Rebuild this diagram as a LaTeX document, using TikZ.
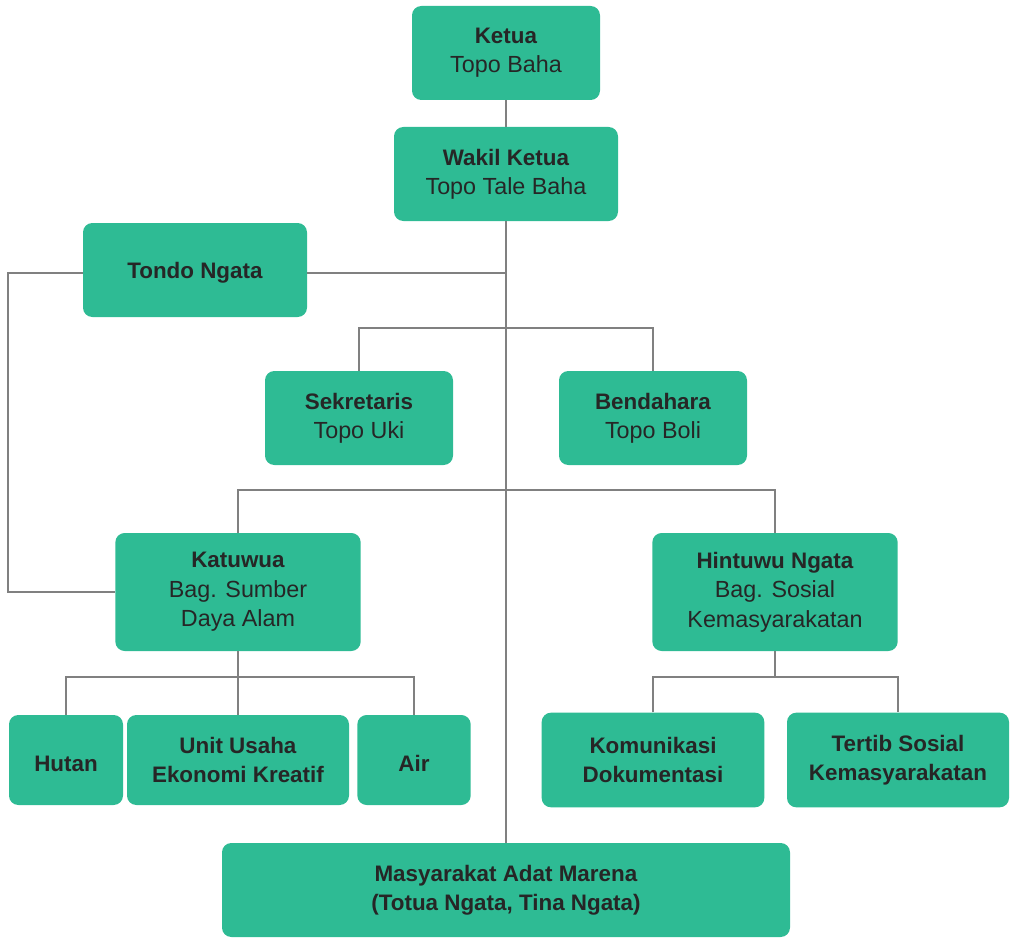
\documentclass[tikz,border=0pt]{standalone}
\usepackage{fontspec}
\setmainfont{Liberation Sans}[BoldFeatures={Scale=0.96}]
\usepackage{xcolor}
\usepackage{tikz}
\usetikzlibrary{positioning, calc}
\definecolor{boxgreen}{RGB}{46, 187, 148}
\definecolor{linegray}{RGB}{128, 128, 128}

\tikzset{
    unit/.style={fill=boxgreen, rounded corners=7pt, align=center, inner sep=0pt,
        font=\fontsize{17.5}{22}\selectfont, text=black!85,
        execute at begin node={\rule{0pt}{16.8pt}}},
    wire/.style={draw=linegray, line width=1.5pt}
}

\begin{document}
\begin{tikzpicture}[x=0.75pt, y=-0.75pt]
    \useasboundingbox (0,0) rectangle (1010,938);

    % Pengurus inti
    \node[unit, minimum width=141pt, minimum height=70.5pt] (ketua) at (506,53) {\textbf{Ketua}\\Topo Baha};
    \node[unit, minimum width=168pt, minimum height=70.5pt] (wakil) at (506,174) {\textbf{Wakil Ketua}\\Topo Tale Baha};
    \node[unit, minimum width=168pt, minimum height=70.5pt] (tondo) at (195,270) {\textbf{Tondo Ngata}};
    \node[unit, minimum width=141pt, minimum height=70.5pt] (sekre) at (359,418) {\textbf{Sekretaris}\\Topo Uki};
    \node[unit, minimum width=141pt, minimum height=70.5pt] (benda) at (653,418) {\textbf{Bendahara}\\Topo Boli};

    % Bagian
    \node[unit, minimum width=184pt, minimum height=88.5pt] (katuwua) at (238,592) {\textbf{Katuwua}\\Bag. Sumber\\Daya Alam};
    \node[unit, minimum width=184pt, minimum height=88.5pt] (hintuwu) at (775,592) {\textbf{Hintuwu Ngata}\\Bag. Sosial\\Kemasyarakatan};

    % Unit di bawah bagian
    \node[unit, minimum width=85.5pt, minimum height=67.5pt] (hutan) at (66,760) {\textbf{Hutan}};
    \node[unit, minimum width=166.5pt, minimum height=67.5pt] (usaha) at (238,760) {\textbf{Unit Usaha}\\\textbf{Ekonomi Kreatif}};
    \node[unit, minimum width=85pt, minimum height=67.5pt] (air) at (414,760) {\textbf{Air}};
    \node[unit, minimum width=167pt, minimum height=71pt] (komun) at (653,760) {\textbf{Komunikasi}\\\textbf{Dokumentasi}};
    \node[unit, minimum width=166.5pt, minimum height=71pt] (tertib) at (898,760) {\textbf{Tertib Sosial}\\\textbf{Kemasyarakatan}};

    % Masyarakat
    \node[unit, minimum width=426pt, minimum height=70.5pt] (masy) at (506,890) {\textbf{Masyarakat Adat Marena}\\\textbf{(Totua Ngata, Tina Ngata)}};

    % Titik belok
    \coordinate (sb) at (506,328);
    \coordinate (kh) at (506,490);
    \coordinate (kbus) at (238,677);
    \coordinate (hbus) at (775,677);
    \coordinate (kiri) at (8,273);

    % Garis
    \begin{scope}[on background layer/.try]
    \draw[wire] (ketua) -- (wakil);
    \draw[wire] (wakil) -- (masy);
    \draw[wire] (tondo.east |- 0,273) -- (506,273);
    \draw[wire] (tondo.west |- 0,273) -- (kiri) |- (katuwua.west);
    \draw[wire] (sekre) |- (sb) -| (benda);
    \draw[wire] (katuwua) |- (kh) -| (hintuwu);
    \draw[wire] (katuwua) -- (kbus);
    \draw[wire] (hutan) |- (kbus) -| (air);
    \draw[wire] (kbus) -- (usaha);
    \draw[wire] (hintuwu) -- (hbus);
    \draw[wire] (komun) |- (hbus) -| (tertib);
    \end{scope}
\end{tikzpicture}
\end{document}
